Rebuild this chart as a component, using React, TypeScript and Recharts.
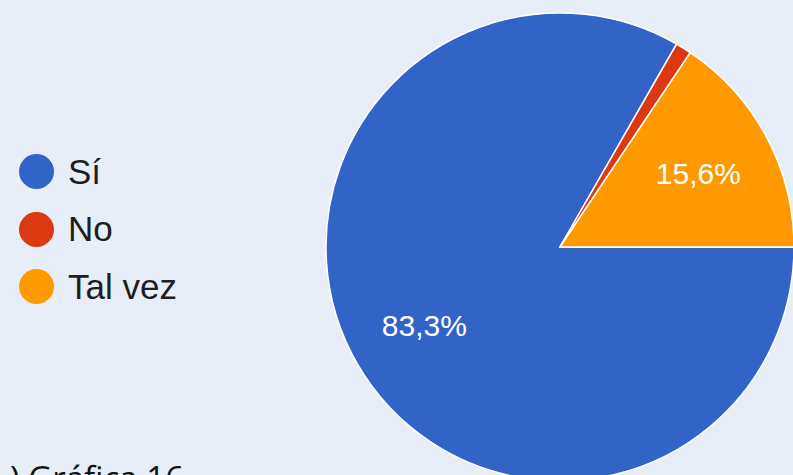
import React from 'react';
import { PieChart, Pie, Cell } from 'recharts';

const categories = ['Sí', 'No', 'Tal vez'];
const shares = [83.3, 1.1, 15.6];
const colors = ['#3264c8', '#dc3912', '#ff9900'];
const caption = ') Gráfica 16';

const data = categories.map((name, i) => ({ name, value: shares[i] }));

const RADIAN = Math.PI / 180;

// white percentage inside the slice, skipped for very thin slices
const renderLabel = (props: any) => {
  const { cx, cy, midAngle, outerRadius, value } = props;
  if (value < 5) return null;
  const r = outerRadius * 0.67;
  const x = cx + r * Math.cos(-midAngle * RADIAN);
  const y = cy + r * Math.sin(-midAngle * RADIAN);
  return (
    <text
      x={x}
      y={y}
      fill="#ffffff"
      textAnchor="middle"
      dominantBaseline="central"
      fontSize={30}
      fontFamily="'Liberation Sans', Arial, sans-serif"
    >
      {value.toFixed(1).replace('.', ',') + '%'}
    </text>
  );
};

const LegendBox: React.FC = () => (
  <div
    style={{
      position: 'absolute',
      left: 19,
      top: 143,
      fontFamily: "'Liberation Sans', Arial, sans-serif",
    }}
  >
    {categories.map((name, i) => (
      <div key={name} style={{ display: 'flex', alignItems: 'center', height: 57.5 }}>
        <span
          style={{
            width: 35,
            height: 35,
            borderRadius: '50%',
            background: colors[i],
            display: 'inline-block',
            marginRight: 14,
          }}
        />
        <span style={{ fontSize: 35, color: '#1e1e1e' }}>{name}</span>
      </div>
    ))}
  </div>
);

const App: React.FC = () => {
  return (
    <div
      style={{
        position: 'absolute',
        left: 0,
        top: 0,
        width: 793,
        height: 475,
        overflow: 'hidden',
        background: '#e8eef7',
      }}
    >
      <PieChart width={793} height={475} margin={{ top: 0, right: 0, bottom: 0, left: 0 }}>
        <Pie
          data={data}
          dataKey="value"
          nameKey="name"
          cx={560}
          cy={247}
          outerRadius={234}
          startAngle={0}
          endAngle={-360}
          stroke="#ffffff"
          strokeWidth={1.5}
          label={renderLabel}
          labelLine={false}
          isAnimationActive={false}
        >
          {data.map((d, i) => (
            <Cell key={d.name} fill={colors[i]} />
          ))}
        </Pie>
        <text
          x={10}
          y={490}
          fontSize={33}
          fill="#111111"
          fontFamily="'Open Sans', 'Liberation Sans', sans-serif"
        >
          {caption}
        </text>
      </PieChart>
      <LegendBox />
    </div>
  );
};

export default App;
